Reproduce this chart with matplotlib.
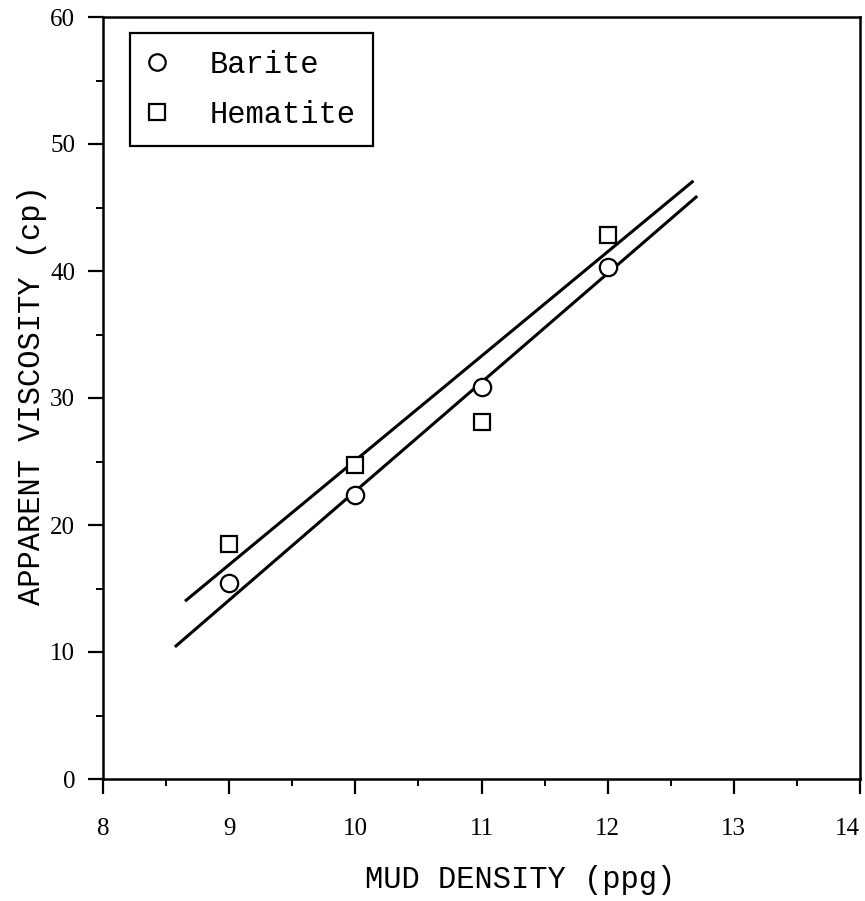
import matplotlib
matplotlib.use("Agg")
import matplotlib.pyplot as plt
from matplotlib.ticker import MultipleLocator

# Data
density = [9, 10, 11, 12]
barite_visc = [15.4, 22.4, 30.9, 40.3]
hematite_visc = [18.5, 24.7, 28.1, 42.8]

# Fitted lines (end points)
barite_fit_x = [8.57, 12.71]
barite_fit_y = [10.4, 45.9]
hematite_fit_x = [8.65, 12.68]
hematite_fit_y = [14.0, 47.1]

x_ticks = [8, 9, 10, 11, 12, 13, 14]
y_ticks = [0, 10, 20, 30, 40, 50, 60]

W, H = 865, 901
fig = plt.figure(figsize=(W / 100, H / 100), dpi=100)
left, right, bottom, top = 103, 860, 779, 17
ax = fig.add_axes([left / W, (H - bottom) / H, (right - left) / W, (bottom - top) / H])

mono = "Liberation Mono"
serif = "Liberation Serif"

ax.plot(barite_fit_x, barite_fit_y, color="black", lw=2.2, solid_capstyle="butt", zorder=2)
ax.plot(hematite_fit_x, hematite_fit_y, color="black", lw=2.2, solid_capstyle="butt", zorder=2)
ax.plot(density, barite_visc, linestyle="none", marker="o", ms=12.5, mfc="white",
        mec="black", mew=1.6, label="Barite", zorder=3)
ax.plot(density, hematite_visc, linestyle="none", marker="s", ms=12, mfc="white",
        mec="black", mew=1.6, label="Hematite", zorder=3)

ax.set_xlim(8, 14)
ax.set_ylim(0, 60)
ax.set_xticks(x_ticks)
ax.set_yticks(y_ticks)
ax.set_xticklabels([str(v) for v in x_ticks], fontfamily=serif, fontsize=18)
ax.set_yticklabels([str(v) for v in y_ticks], fontfamily=serif, fontsize=18)
ax.get_xticklabels()[-1].set_horizontalalignment("right")
ax.xaxis.set_minor_locator(MultipleLocator(0.5))
ax.yaxis.set_minor_locator(MultipleLocator(5))
ax.tick_params(which="major", direction="out", length=11, width=1.6)
ax.tick_params(which="minor", direction="out", length=5, width=1.4)
ax.tick_params(axis="x", which="major", pad=17)
ax.tick_params(axis="y", which="major", pad=9)
ax.tick_params(top=False, right=False, which="both")

for s in ax.spines.values():
    s.set_linewidth(1.8)

ax.set_xlabel("MUD DENSITY (ppg)", fontfamily=mono, fontsize=22, va="center")
ax.xaxis.set_label_coords((520 - left) / (right - left), (bottom - 880) / (bottom - top))
ax.set_ylabel("APPARENT VISCOSITY (cp)", fontfamily=mono, fontsize=22, va="center")
ax.yaxis.set_label_coords((32 - left) / (right - left), (bottom - 395) / (bottom - top))

leg = ax.legend(loc="upper left",
                bbox_to_anchor=((130 - left) / (right - left), (bottom - 33) / (bottom - top)),
                borderaxespad=0, prop={"family": mono, "size": 22},
                fancybox=False, framealpha=1, edgecolor="black",
                borderpad=0.55, handlelength=0.65, handletextpad=1.42, labelspacing=0.65,
                markerscale=0.95)
leg.get_frame().set_linewidth(1.6)

fig.savefig("out.png", dpi=100)
